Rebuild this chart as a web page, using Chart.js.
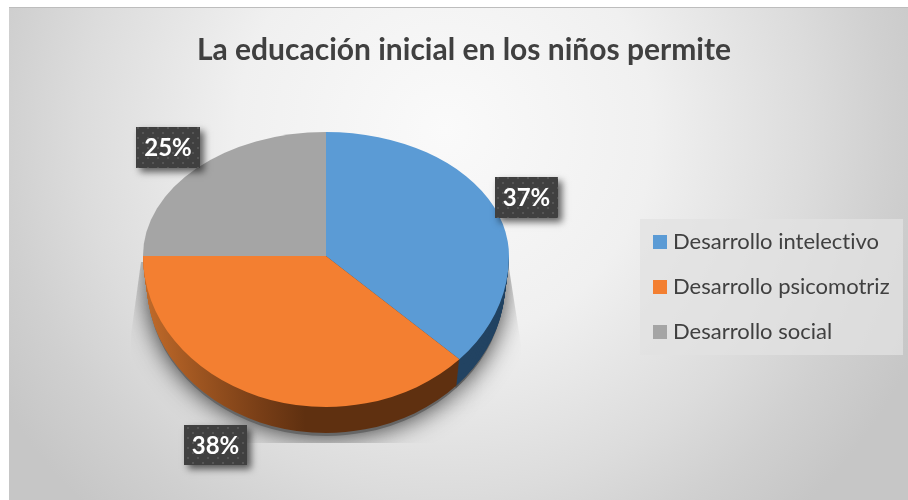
<!DOCTYPE html>
<html><head><meta charset="utf-8">
<style>html,body{margin:0;padding:0;background:#fff}canvas{display:block}</style>
<script src="https://cdn.jsdelivr.net/npm/chart.js@4"></script>
</head><body><div style="width:908px;height:500px"><canvas id="c" width="908" height="500"></canvas></div>
<script>
const chartTitle = 'La educación inicial en los niños permite';
const categories = ['Desarrollo intelectivo', 'Desarrollo psicomotriz', 'Desarrollo social'];
const percentages = [37, 38, 25];
const faceColors = ['#5b9bd5', '#f37f31', '#a5a5a5'];

const AREA = {left:143, top:73, right:509, bottom:439, width:366, height:366};
const CY = 256, CX = 326, BACK = 124/183, FRONT = 151/183, DEPTH = 26;
const LABEL_BOXES = [[495,177,63,41],[184,425,63,40],[136,127,64,41]];

function dotted(ctx){
  const p = document.createElement('canvas'); p.width = p.height = 10;
  const g = p.getContext('2d');
  g.fillStyle = '#404040'; g.fillRect(0,0,10,10);
  g.fillStyle = '#555555';
  g.fillRect(2,2,2,2); g.fillRect(7,7,2,2);
  return ctx.createPattern(p,'repeat');
}
function drawArcs(chart, ctx, colorFor){
  chart.getDatasetMeta(0).data.forEach((arc,i)=>{
    const o = arc.options;
    arc.options = {...o, backgroundColor: colorFor(i), borderWidth:0};
    arc.draw(ctx);
    arc.options = o;
  });
}
const pie3d = {
  id:'pie3d',
  afterLayout(chart){
    chart.chartArea = {...AREA};
    const l = chart.legend; l.left = 635; l.top = 208; l.right = 903; l.bottom = 500;
    const t = chart.titleBlock; t.left = 0; t.right = 928; t.top = 32; t.bottom = 72;
  },
  beforeDraw(chart){
    const ctx = chart.ctx;
    ctx.textRendering = 'optimizeSpeed';
    ctx.save();
    ctx.fillStyle = '#ffffff'; ctx.fillRect(0,0,908,500);
    const g = ctx.createRadialGradient(445,130,0,445,130,520);
    g.addColorStop(0,'#fafafa'); g.addColorStop(0.4,'#f0f0f0');
    g.addColorStop(0.7,'#dcdcdc'); g.addColorStop(0.85,'#d0d0d0'); g.addColorStop(1,'#c6c6c6');
    ctx.fillStyle = g; ctx.fillRect(9,7,899,493);
    ctx.fillStyle = '#bdbdbd'; ctx.fillRect(9,7,899,1);
    ctx.fillStyle = 'rgba(226,226,226,0.75)'; ctx.fillRect(640,219,263,136);
    ctx.restore();
  },
  beforeDatasetsDraw(chart){
    const ctx = chart.ctx;
    const sideOrange = ctx.createLinearGradient(143,0,305,0);
    sideOrange.addColorStop(0,'#c06a2a'); sideOrange.addColorStop(0.35,'#9c5420');
    sideOrange.addColorStop(0.7,'#7a3f17'); sideOrange.addColorStop(1,'#5f3010');
    const sides = [ '#224362', sideOrange, '#5a5a5a' ];

    const place = (dy, sx, sy) => {
      ctx.translate(CX, CY + dy); ctx.scale(sx, sy); ctx.translate(-CX, -CY);
    };
    // soft shadow, cut by its trapezoid
    ctx.save();
    ctx.beginPath();
    ctx.moveTo(141,262); ctx.lineTo(131,335); ctx.lineTo(131,443);
    ctx.lineTo(521,443); ctx.lineTo(521,345); ctx.lineTo(508,262); ctx.closePath();
    ctx.clip();
    ctx.shadowColor = 'rgba(0,0,0,0.8)'; ctx.shadowBlur = 26;
    place(DEPTH + 3, 0.975, FRONT);
    drawArcs(chart, ctx, () => '#666666');
    ctx.restore();
    ctx.shadowColor = 'transparent';

    // side wall
    ctx.save();
    ctx.beginPath(); ctx.rect(0,CY,908,244); ctx.clip();
    for (let d = DEPTH; d >= 1; d--) {
      ctx.save();
      place(d, 1 - 0.02*d/DEPTH, FRONT);
      drawArcs(chart, ctx, i => sides[i]);
      ctx.restore();
    }
    ctx.restore();

    // top face: back half and front half are foreshortened differently
    ctx.save();
    ctx.beginPath(); ctx.rect(0,0,908,CY); ctx.clip();
    place(0,1,BACK);
    drawArcs(chart, ctx, i => faceColors[i]);
    ctx.restore();
    ctx.save();
    ctx.beginPath(); ctx.rect(0,CY,908,244); ctx.clip();
    place(0,1,FRONT);
    drawArcs(chart, ctx, i => faceColors[i]);
    ctx.restore();
    return false;
  },
  afterDraw(chart){
    const ctx = chart.ctx, pat = dotted(ctx);
    percentages.forEach((v,i)=>{
      const [x,y,w,h] = LABEL_BOXES[i];
      ctx.save();
      ctx.shadowColor = 'rgba(0,0,0,0.6)'; ctx.shadowBlur = 7;
      ctx.shadowOffsetX = 4; ctx.shadowOffsetY = 4;
      ctx.fillStyle = '#404040'; ctx.fillRect(x,y,w,h);
      ctx.restore();
      ctx.save();
      ctx.fillStyle = pat; ctx.fillRect(x,y,w,h);
      ctx.fillStyle = '#ffffff'; ctx.font = 'bold 24px Lato';
      ctx.textAlign = 'center'; ctx.textBaseline = 'middle';
      ctx.fillText(v + '%', x + w/2, y + h/2 + 1);
      ctx.restore();
    });
  }
};

new Chart(document.getElementById('c'), {
  type:'pie',
  data:{labels:categories, datasets:[{data:percentages, backgroundColor:faceColors, borderWidth:0, hoverOffset:0}]},
  plugins:[pie3d],
  options:{
    responsive:false, animation:false, events:[],
    layout:{padding:0},
    plugins:{
      tooltip:{enabled:false},
      title:{display:true, text:chartTitle, color:'#404040', font:{family:'Lato', size:30, weight:'bold'}, padding:0},
      legend:{
        position:'right', align:'start',
        labels:{
          color:'#404040', font:{family:'Lato', size:22}, boxWidth:4, boxHeight:4, padding:23,
          generateLabels(chart){
            return Chart.overrides.pie.plugins.legend.labels.generateLabels(chart).map((it,i)=>({
              ...it, fillStyle:faceColors[i], strokeStyle:faceColors[i], lineWidth:10
            }));
          }
        }
      }
    }
  }
});
</script></body></html>
